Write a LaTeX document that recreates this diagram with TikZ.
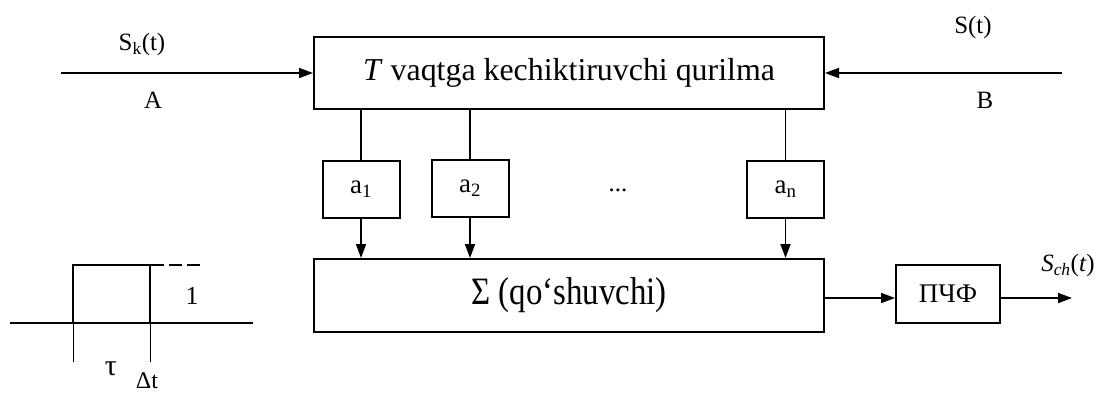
\documentclass[tikz,border=0pt]{standalone}
\usepackage{fontspec}
\setmainfont{Liberation Serif}
\usetikzlibrary{arrows.meta}
\tikzset{
  blk/.style={draw, line width=2bp, inner sep=0pt, font=\fontsize{32}{36}\selectfont},
  coef/.style={draw, line width=2bp, inner sep=0pt, minimum width=77bp, minimum height=57bp, font=\fontsize{27}{30}\selectfont},
  conn/.style={line width=1.8bp},
  arr/.style={conn, -{Triangle[length=14bp,width=10bp]}},
  lbl/.style={inner sep=0pt, font=\fontsize{25}{28}\selectfont},
  small/.style={inner sep=0pt, font=\fontsize{26}{28}\selectfont},
  pulse/.style={line width=2.5bp},
  thin/.style={line width=1bp}
}
\begin{document}
\begin{tikzpicture}[x=1bp,y=-1bp]
\useasboundingbox (0,0) rectangle (1100,396);
% main blocks
\node[blk, minimum width=510bp, minimum height=72bp] (top) at (569,73) {\textit{T} vaqtga kechiktiruvchi qurilma};
\node[blk, minimum width=510bp, minimum height=73bp, font=\fontsize{33}{40}\selectfont] (sum) at (569,295.5) {\scalebox{1}[1.18]{Σ (qo‘shuvchi)}};
\node[coef] (a1) at (361,189.5) {a\textsubscript{1}};
\node[coef] (a2) at (470,188.5) {a\textsubscript{2}};
\node[coef] (an) at (785.5,189) {a\textsubscript{n}};
\node[lbl] (dots) at (618,190) {...};
\node[draw, line width=2bp, inner sep=0pt, minimum width=104bp, minimum height=58bp, font=\fontsize{27}{30}\selectfont] (pchf) at (948,294) {ПЧФ};
% inputs
\coordinate (inA) at (61,73);
\coordinate (inB) at (1062,73);
\draw[arr] (inA) -- (top.west);
\draw[arr] (inB) -- (top.east);
\node[lbl] (skt) at (142,45) {S\textsubscript{k}(t)};
\node[lbl] (la) at (153,100) {A};
\node[lbl] (st) at (973,28) {S(t)};
\node[lbl] (lb) at (985,100) {B};
% taps
\draw[conn] (a1.north |- top.south) -- (a1.north);
\draw[conn] (a2.north |- top.south) -- (a2.north);
\draw[conn] (an.north |- top.south) -- (an.north);
\draw[arr] (a1.south) -- (a1.south |- sum.north);
\draw[arr] (a2.south) -- (a2.south |- sum.north);
\draw[arr] (an.south) -- (an.south |- sum.north);
% output
\coordinate (sumout) at (824,298);
\coordinate (out) at (1072,298);
\draw[arr] (sumout) -- (pchf.west |- sumout);
\draw[arr] (pchf.east |- out) -- (out);
\node[lbl] (sch) at (1068,266) {\textit{S}\textsubscript{\textit{ch}}(\textit{t})};
% pulse sketch
\draw[pulse] (10,323) -- (253,323);
\draw[pulse] (73,323) -- (73,265) -- (150,265) -- (150,323);
\draw[pulse, line width=2bp, dash pattern=on 13bp off 5bp] (115,265) -- (200,265);
\draw[thin] (73,323) -- (73,362);
\draw[thin] (150,323) -- (150,362);
\node[small] (one) at (192,296) {1};
\node[small, font=\fontsize{30}{30}\selectfont] (tau) at (111,369) {τ};
\node[small, font=\fontsize{24}{26}\selectfont] (dt) at (147,381) {Δt};
\end{tikzpicture}
\end{document}
